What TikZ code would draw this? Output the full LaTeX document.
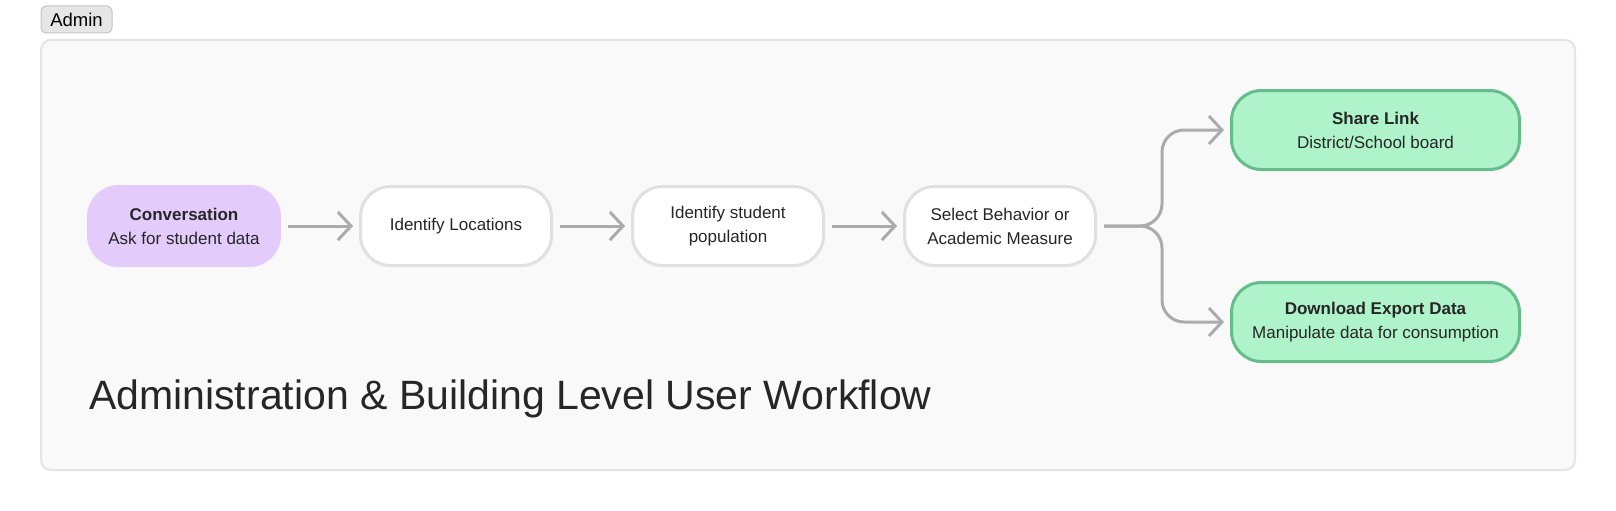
\documentclass[tikz,border=0pt]{standalone}
\usepackage{fontspec}
\setmainfont{Liberation Sans}
\usetikzlibrary{arrows.meta, positioning, calc}

\definecolor{convfill}{HTML}{E3CCFB}
\definecolor{greenfill}{HTML}{AEF3C9}
\definecolor{greenline}{HTML}{66BD89}
\definecolor{boxline}{HTML}{E0E0E0}
\definecolor{arrowgray}{HTML}{ABABAB}
\definecolor{framefill}{HTML}{F9F9F9}
\definecolor{frameline}{HTML}{E4E4E4}
\definecolor{badgefill}{HTML}{E6E6E6}
\definecolor{badgeline}{HTML}{C4C4C4}
\definecolor{textdark}{HTML}{262626}

\begin{document}
\begin{tikzpicture}[
        x=1pt, y=1pt,
        stepbox/.style={draw=boxline, line width=3pt, fill=white, rounded corners=30pt, minimum width=191pt, minimum height=79pt, align=center, text=textdark, font=\fontsize{17}{24}\selectfont},
        convbox/.style={stepbox, draw=convfill, fill=convfill},
        endbox/.style={stepbox, draw=greenline, fill=greenfill, minimum width=288pt},
        flow/.style={draw=arrowgray, line width=3pt, -{Straight Barb[length=13pt, width=28pt]}, shorten <=7pt, shorten >=6pt},
        node distance=78pt
    ]
        \fill[white] (0,0) rectangle (1616,-511);
        \useasboundingbox (0,0) rectangle (1616,-511);

        \draw[fill=framefill, draw=frameline, line width=2pt, rounded corners=10pt] (41,-40) rectangle (1575,-470);
        \node[draw=badgeline, fill=badgefill, line width=1pt, rounded corners=5pt, minimum width=71pt, minimum height=27pt, inner sep=0pt, font=\fontsize{18.5}{18.5}\selectfont] (admin) at (76.5,-19.5) {Admin};

        \node[convbox] (conv) at (184,-226) {\textbf{Conversation}\\Ask for student data};
        \node[stepbox, right=of conv] (loc) {Identify Locations};
        \node[stepbox, right=of loc] (pop) {Identify student\\population};
        \node[stepbox, right=of pop] (sel) {Select Behavior or\\Academic Measure};
        \node[endbox, right=133pt of sel, yshift=96pt] (share) {\textbf{Share Link}\\District/School board};
        \node[endbox, below=110pt of share] (export) {\textbf{Download Export Data}\\Manipulate data for consumption};

        \draw[flow] (conv) -- (loc);
        \draw[flow] (loc) -- (pop);
        \draw[flow] (pop) -- (sel);
        \draw[flow, rounded corners=22pt] (sel.east) -- ++(65,0) |- (share.west);
        \draw[flow, rounded corners=22pt] (sel.east) -- ++(65,0) |- (export.west);

        \node[anchor=base west, inner sep=0pt, text=textdark, font=\fontsize{41}{41}\selectfont] (title) at (89,-409) {Administration \& Building Level User Workflow};
    \end{tikzpicture}
\end{document}
